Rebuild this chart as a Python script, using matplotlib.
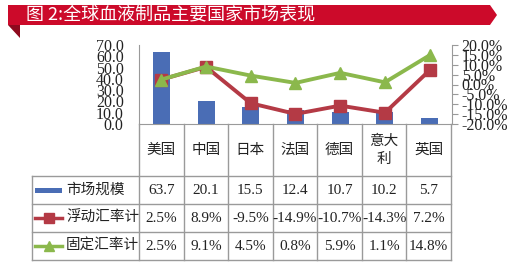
import matplotlib.pyplot as plt
from matplotlib.patches import Polygon, Rectangle
from matplotlib.lines import Line2D

# data
countries = ['美国', '中国', '日本', '法国', '德国', '意大\n利', '英国']
market = [63.7, 20.1, 15.5, 12.4, 10.7, 10.2, 5.7]
floating = [2.5, 8.9, -9.5, -14.9, -10.7, -14.3, 7.2]
fixed = [2.5, 9.1, 4.5, 0.8, 5.9, 1.1, 14.8]
series_names = ['市场规模', '浮动汇率计', '固定汇率计']
title = '图 2:全球血液制品主要国家市场表现'

blue = '#4A6DB5'
red = '#B43A45'
green = '#8BB84C'
grid = '#9a9a9a'

W, H = 519, 270
def fx(p): return p / W
def fy(p): return 1 - p / H

fig = plt.figure(figsize=(5.19, 2.70), dpi=100)
fig.patch.set_facecolor('white')

# title banner
fig.patches.append(Polygon([(fx(8), fy(5)), (fx(490), fy(5)), (fx(497), fy(15)),
                            (fx(490), fy(25)), (fx(8), fy(25))], closed=True,
                           transform=fig.transFigure, facecolor='#CC0A2A', edgecolor='none'))
fig.patches.append(Polygon([(fx(8), fy(25)), (fx(20), fy(25)), (fx(20), fy(38))], closed=True,
                           transform=fig.transFigure, facecolor='#8E0A1E', edgecolor='none'))
fig.text(fx(26), fy(15.5), title, color='white', fontsize=13, va='center', ha='left',
         family=['Noto Sans CJK SC', 'DejaVu Sans'])

# main axes
x0, x1, ytop, ybot = 139, 452, 45, 124
ax = fig.add_axes([fx(x0), fy(ybot), fx(x1) - fx(x0), fy(ytop) - fy(ybot)])
n = len(countries)
xs = list(range(n))
ax.bar(xs, market, width=0.38, color=blue, zorder=2)
ax.set_xlim(-0.5, n - 0.5)
ax.set_ylim(0, 70)
ax.set_yticks(range(0, 71, 10))
ax.set_yticklabels([f'{v:.1f}' for v in range(0, 71, 10)], family='Liberation Serif', fontsize=11.5)
ax.tick_params(axis='y', length=0, pad=11, labelcolor='#222222')
ax.set_xticks([])
for s in ['top', 'right']:
    ax.spines[s].set_visible(False)
ax.spines['left'].set_color(grid)
ax.spines['bottom'].set_color(grid)

ax2 = ax.twinx()
ax2.plot(xs, floating, color=red, lw=2.8, marker='s', ms=8, zorder=3)
ax2.plot(xs, fixed, color=green, lw=2.8, marker='^', ms=9, zorder=4)
ax2.set_ylim(-20, 20)
ax2.set_yticks(range(-20, 21, 5))
ax2.set_yticklabels([f'{v:.1f}%' for v in range(-20, 21, 5)], family='Liberation Serif', fontsize=11.5)
ax2.tick_params(axis='y', length=4, pad=3, color=grid, labelcolor='#222222')
for s in ['top', 'left', 'bottom']:
    ax2.spines[s].set_visible(False)
ax2.spines['right'].set_color(grid)

# data table below
col_w = (x1 - 1 - x0) / n
rows_y = [176, 204, 232, 260]
tx0 = 32
for yy in rows_y:
    fig.add_artist(Line2D([fx(tx0), fx(x1 - 1)], [fy(yy), fy(yy)], color=grid, lw=1))
fig.add_artist(Line2D([fx(tx0), fx(tx0)], [fy(176), fy(260)], color=grid, lw=1))
for i in range(n + 1):
    xx = x0 + i * col_w
    fig.add_artist(Line2D([fx(xx), fx(xx)], [fy(ybot), fy(260)], color=grid, lw=1))

cjk = ['Noto Sans CJK SC', 'DejaVu Sans']
for i, c in enumerate(countries):
    cx = x0 + (i + 0.5) * col_w
    fig.text(fx(cx), fy(150), c, ha='center', va='center', fontsize=10.5, family=cjk,
             color='#222222', linespacing=1.3)

rows = [[f'{v}' for v in market],
        [f'{v}%' for v in floating],
        [f'{v}%' for v in fixed]]
for r, vals in enumerate(rows):
    cy = (rows_y[r] + rows_y[r + 1]) / 2
    for i, v in enumerate(vals):
        cx = x0 + (i + 0.5) * col_w
        fig.text(fx(cx), fy(cy), v, ha='center', va='center', fontsize=11,
                 family='Liberation Serif', color='#222222')
    fig.text(fx(66), fy(cy), series_names[r], ha='left', va='center', fontsize=10.5,
             family=cjk, color='#222222')

# legend keys
cy = (rows_y[0] + rows_y[1]) / 2
fig.patches.append(Rectangle((fx(35), fy(cy + 2.5)), fx(62) - fx(35), fy(cy - 2.5) - fy(cy + 2.5),
                             transform=fig.transFigure, facecolor=blue, edgecolor='none'))
cy = (rows_y[1] + rows_y[2]) / 2
fig.add_artist(Line2D([fx(35), fx(62)], [fy(cy), fy(cy)], color=red, lw=2.5))
fig.add_artist(Line2D([fx(48.5)], [fy(cy)], color=red, marker='s', ms=6.5))
cy = (rows_y[2] + rows_y[3]) / 2
fig.add_artist(Line2D([fx(35), fx(62)], [fy(cy), fy(cy)], color=green, lw=2.5))
fig.add_artist(Line2D([fx(48.5)], [fy(cy)], color=green, marker='^', ms=6.5))

fig.savefig('out.png', dpi=100)
